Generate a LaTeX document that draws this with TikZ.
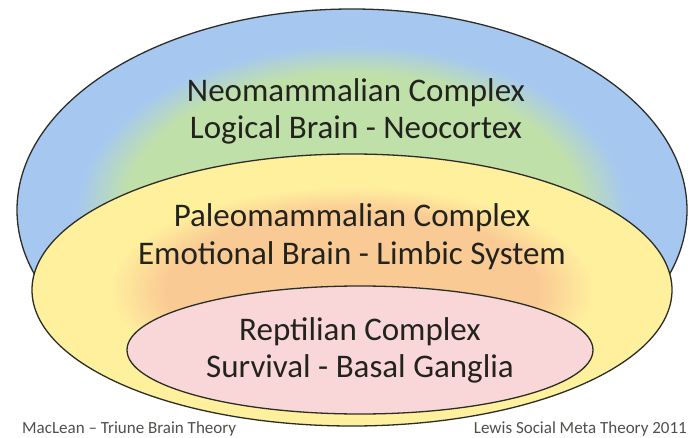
\documentclass[tikz,border=0pt]{standalone}
\usepackage{fontspec}
\setmainfont{Carlito}

\definecolor{neoblue}{RGB}{166,200,240}
\definecolor{neogreen}{RGB}{192,224,170}
\definecolor{paleoyellow}{RGB}{255,240,158}
\definecolor{paleoorange}{RGB}{250,202,148}
\definecolor{reptpink}{RGB}{249,215,216}
\definecolor{rimgray}{RGB}{45,45,40}
\definecolor{inkgray}{RGB}{35,35,30}

% path box maps onto radius 25bp
\pgfdeclareradialshading{neoglow}{\pgfpointorigin}{color(0bp)=(neogreen); color(17bp)=(neogreen); color(20.5bp)=(neoblue); color(50bp)=(neoblue)}
\pgfdeclareradialshading{paleoglow}{\pgfpointorigin}{color(0bp)=(paleoorange); color(14.5bp)=(paleoorange); color(19bp)=(paleoyellow); color(50bp)=(paleoyellow)}

\tikzset{
  rim/.style={draw=rimgray, line width=1.3pt},
  layer text/.style={anchor=base, text=inkgray, font=\fontsize{33}{37}\selectfont, inner sep=0pt},
  credit/.style={text=inkgray!80, font=\fontsize{17}{20}\selectfont, inner sep=0pt}
}

\begin{document}
\begin{tikzpicture}[x=1pt, y=-1pt]
  \useasboundingbox[fill=white] (0,0) rectangle (688,438);

  % the three brains, outer to inner
  \shade[shading=neoglow, rim] (352,210) ellipse [x radius=335, y radius=201];
  \shade[shading=paleoglow, rim] (352,290) ellipse [x radius=320, y radius=136];
  \fill[reptpink, rim] (360,350) ellipse [x radius=233, y radius=64];

  \node[layer text] (neotitle) at (356,102) {Neomammalian Complex};
  \node[layer text] (neosub) at (356,139) {Logical Brain - Neocortex};

  \node[layer text] (paleotitle) at (352,227) {Paleomammalian Complex};
  \node[layer text] (paleosub) at (352,265) {Emotional Brain - Limbic System};

  \node[layer text] (repttitle) at (360,341) {Reptilian Complex};
  \node[layer text] (reptsub) at (360,377) {Survival - Basal Ganglia};

  \node[credit, anchor=base west] (maclean) at (22,433) {MacLean – Triune Brain Theory};
  \node[credit, anchor=base east] (lewis) at (687,433) {Lewis Social Meta Theory 2011};
\end{tikzpicture}
\end{document}
